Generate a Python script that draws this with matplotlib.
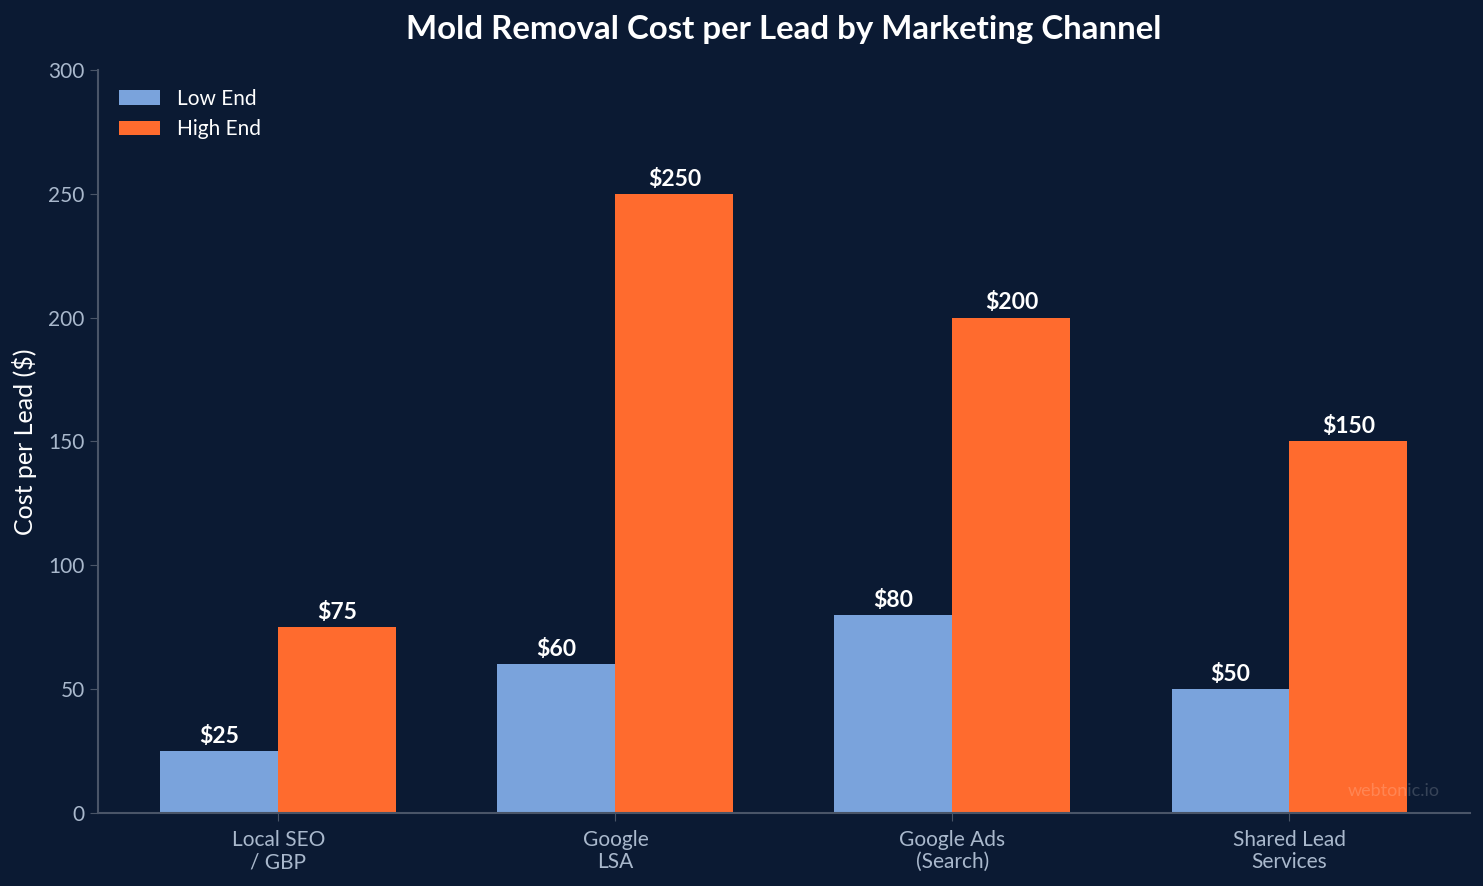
import matplotlib
matplotlib.use("Agg")
import matplotlib.pyplot as plt
import numpy as np

plt.rcParams['font.family'] = ['Lato', 'DejaVu Sans']

channels = ['Local SEO\n/ GBP', 'Google\nLSA', 'Google Ads\n(Search)', 'Shared Lead\nServices']
low_end = [25, 60, 80, 50]
high_end = [75, 250, 200, 150]

bg = '#0b1a33'
low_color = '#7aa3dc'
high_color = '#ff6b2e'
axis_color = '#4a5568'
tick_color = '#a9b8cc'

fig = plt.figure(figsize=(14.83, 8.86), dpi=100, facecolor=bg)
ax = fig.add_axes([0.0661, 0.0824, 0.925, 0.8386], facecolor=bg)

x = np.arange(len(channels))
w = 0.35
b1 = ax.bar(x - w / 2, low_end, w, color=low_color, label='Low End')
b2 = ax.bar(x + w / 2, high_end, w, color=high_color, label='High End')

for bars in (b1, b2):
    for r in bars:
        ax.annotate(f'${r.get_height():.0f}', (r.get_x() + r.get_width() / 2, r.get_height()),
                    xytext=(0, 3), textcoords='offset points', ha='center', va='bottom',
                    color='white', fontsize=16.5, fontweight='bold')

ax.set_ylim(0, 300)
ax.set_xticks(x)
ax.set_xticklabels(channels, fontsize=15, color=tick_color, linespacing=1.15)
ax.tick_params(axis='y', labelsize=15, colors=tick_color)
ax.tick_params(axis='x', pad=6)
ax.tick_params(axis='both', color=axis_color, length=6)
for lbl in ax.get_yticklabels():
    lbl.set_color(tick_color)

for s in ['top', 'right']:
    ax.spines[s].set_visible(False)
for s in ['left', 'bottom']:
    ax.spines[s].set_color(axis_color)
    ax.spines[s].set_linewidth(1.5)

ax.set_ylabel('Cost per Lead ($)', fontsize=18, color='white', labelpad=8)
ax.set_title('Mold Removal Cost per Lead by Marketing Channel', fontsize=23.8,
             fontweight='bold', color='white', pad=22)

leg = ax.legend(loc='upper left', frameon=False, fontsize=15, labelcolor='white',
                bbox_to_anchor=(0.003, 0.997), borderpad=0.3, handlelength=2.0,
                handleheight=0.7)

fig.text(0.971, 0.107, 'webtonic.io', ha='right', va='center', fontsize=13,
         color='#ffffff', alpha=0.18)

fig.savefig('out.png', dpi=100, facecolor=bg)
